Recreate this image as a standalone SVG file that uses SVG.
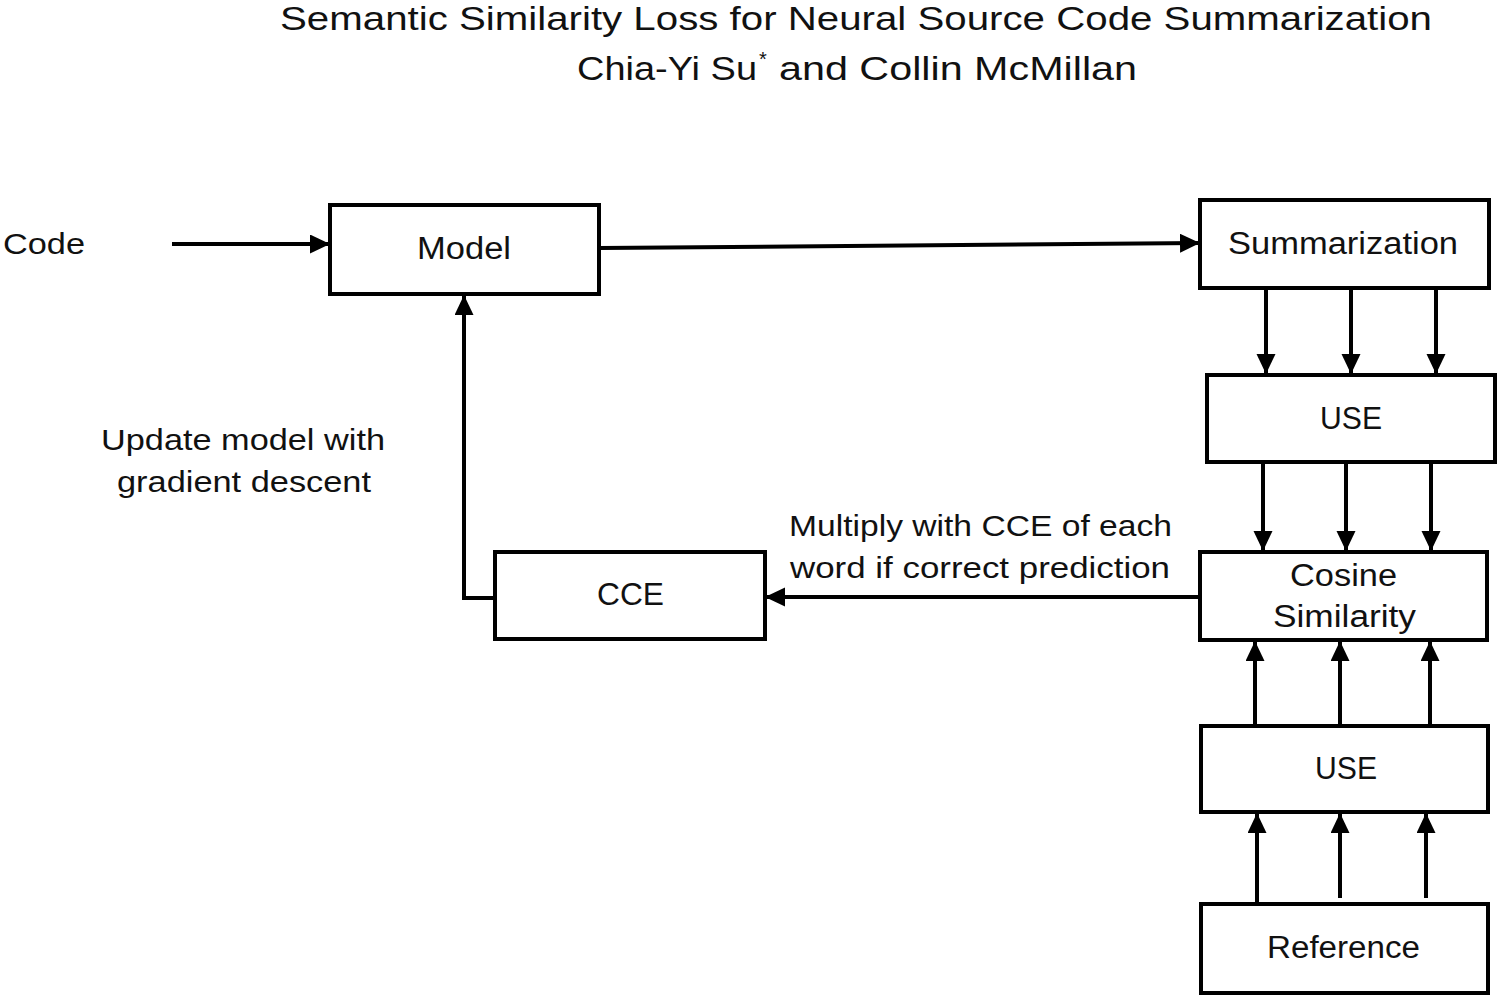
<svg xmlns="http://www.w3.org/2000/svg" width="1500" height="997" viewBox="0 0 1500 997">
<style>
.box{fill:#fff;stroke:#000;stroke-width:4}
.lbl{font-family:"Liberation Sans",Arial,sans-serif;font-size:31px;fill:#111}
.free{font-family:"Liberation Sans",Arial,sans-serif;font-size:30px;fill:#111}
.ttl{font-family:"Liberation Sans",Arial,sans-serif;font-size:34px;fill:#111}
.con{fill:none;stroke:#000;stroke-width:4}
</style>
<defs>
<marker id="ah" markerUnits="userSpaceOnUse" markerWidth="22" markerHeight="20" refX="20" refY="9.5" orient="auto">
<path d="M0,0 L20,9.5 L0,19 z" fill="#000"/>
</marker>
</defs>
<rect width="1500" height="997" fill="#fff"/>
<g id="title">
<text class="ttl" x="280" y="30" textLength="1152" lengthAdjust="spacingAndGlyphs">Semantic Similarity Loss for Neural Source Code Summarization</text>
<text class="ttl" x="577" y="80" textLength="180" lengthAdjust="spacingAndGlyphs">Chia-Yi Su</text>
<text class="ttl" x="759" y="66" style="font-size:20px">*</text>
<text class="ttl" x="779" y="80" textLength="358" lengthAdjust="spacingAndGlyphs">and Collin McMillan</text>
</g>
<g id="connectors">
<line class="con" x1="172" y1="244" x2="330" y2="244" marker-end="url(#ah)"/>
<line class="con" x1="600" y1="248" x2="1200" y2="243" marker-end="url(#ah)"/>
<line class="con" x1="1266" y1="288" x2="1266" y2="374" marker-end="url(#ah)"/>
<line class="con" x1="1351" y1="288" x2="1351" y2="374" marker-end="url(#ah)"/>
<line class="con" x1="1436" y1="288" x2="1436" y2="374" marker-end="url(#ah)"/>
<line class="con" x1="1263" y1="462" x2="1263" y2="551" marker-end="url(#ah)"/>
<line class="con" x1="1346" y1="462" x2="1346" y2="551" marker-end="url(#ah)"/>
<line class="con" x1="1431" y1="462" x2="1431" y2="551" marker-end="url(#ah)"/>
<line class="con" x1="1255" y1="725" x2="1255" y2="641" marker-end="url(#ah)"/>
<line class="con" x1="1340" y1="725" x2="1340" y2="641" marker-end="url(#ah)"/>
<line class="con" x1="1430" y1="725" x2="1430" y2="641" marker-end="url(#ah)"/>
<line class="con" x1="1257" y1="903" x2="1257" y2="813" marker-end="url(#ah)"/>
<line class="con" x1="1340" y1="898" x2="1340" y2="813" marker-end="url(#ah)"/>
<line class="con" x1="1426" y1="898" x2="1426" y2="813" marker-end="url(#ah)"/>
<line class="con" x1="1200" y1="597" x2="765" y2="597" marker-end="url(#ah)"/>
<polyline class="con" points="495,598 464,598 464,295" marker-end="url(#ah)"/>
<text class="free" x="101" y="450" textLength="284" lengthAdjust="spacingAndGlyphs">Update model with</text>
<text class="free" x="117" y="492" textLength="254" lengthAdjust="spacingAndGlyphs">gradient descent</text>
<text class="free" x="789" y="536" textLength="383" lengthAdjust="spacingAndGlyphs">Multiply with CCE of each</text>
<text class="free" x="790" y="578" textLength="380" lengthAdjust="spacingAndGlyphs">word if correct prediction</text>
</g>
<g id="code">
<text class="free" x="3" y="254" textLength="82" lengthAdjust="spacingAndGlyphs">Code</text>
</g>
<g id="model">
<rect class="box" x="330" y="205" width="269" height="89"/>
<text class="lbl" x="417" y="259" textLength="94" lengthAdjust="spacingAndGlyphs">Model</text>
</g>
<g id="summarization">
<rect class="box" x="1200" y="200" width="289" height="88"/>
<text class="lbl" x="1228" y="254" textLength="230" lengthAdjust="spacingAndGlyphs">Summarization</text>
</g>
<g id="use1">
<rect class="box" x="1207" y="375" width="288" height="87"/>
<text class="lbl" x="1320" y="429" textLength="62" lengthAdjust="spacingAndGlyphs">USE</text>
</g>
<g id="cosine">
<rect class="box" x="1200" y="552" width="287" height="88"/>
<text class="lbl" x="1290" y="586" textLength="107" lengthAdjust="spacingAndGlyphs">Cosine</text>
<text class="lbl" x="1273" y="627" textLength="143" lengthAdjust="spacingAndGlyphs">Similarity</text>
</g>
<g id="cce">
<rect class="box" x="495" y="552" width="270" height="87"/>
<text class="lbl" x="597" y="605" textLength="67" lengthAdjust="spacingAndGlyphs">CCE</text>
</g>
<g id="use2">
<rect class="box" x="1201" y="726" width="287" height="86"/>
<text class="lbl" x="1315" y="779" textLength="62" lengthAdjust="spacingAndGlyphs">USE</text>
</g>
<g id="reference">
<rect class="box" x="1201" y="904" width="287" height="89"/>
<text class="lbl" x="1267" y="958" textLength="153" lengthAdjust="spacingAndGlyphs">Reference</text>
</g>
</svg>
